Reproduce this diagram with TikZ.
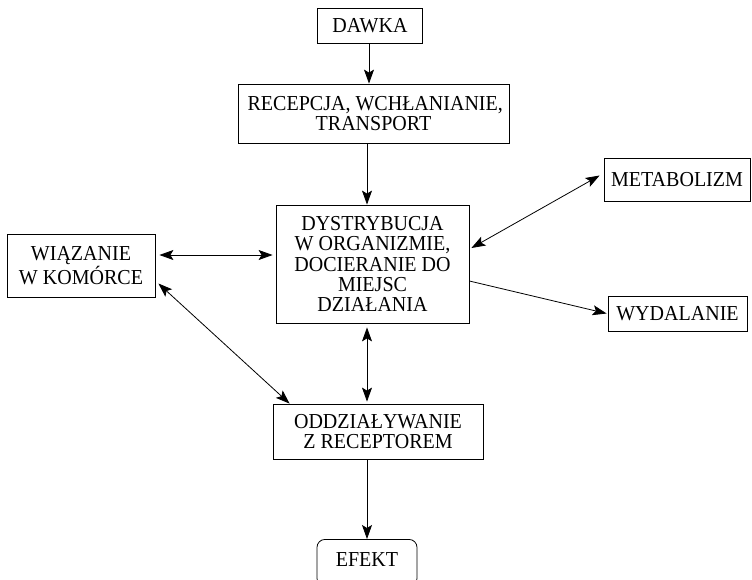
\documentclass[tikz,border=0pt]{standalone}
\usepackage{fontspec}
\setmainfont{Liberation Serif}[FakeStretch=0.94]
\usetikzlibrary{arrows.meta}
\begin{document}
\begin{tikzpicture}[x=1pt,y=-1pt,
  box/.style={draw,line width=0.8pt,rectangle,inner sep=0pt,align=center,
    font=\fontsize{21.3}{20.3}\selectfont},
  arr/.style={line width=0.8pt,-{Stealth[length=14pt,width=10pt,inset=3pt]}},
  darr/.style={line width=0.8pt,{Stealth[length=14pt,width=10pt,inset=3pt]}-{Stealth[length=14pt,width=10pt,inset=3pt]}}]
\useasboundingbox (0,0) rectangle (752,579);
\node[box,minimum width=105pt,minimum height=35pt] (dawka) at (370,25.5) {DAWKA};
\node[box,minimum width=271pt,minimum height=59pt] (rec) at (373.5,113.5) {\,RECEPCJA, WCHŁANIANIE,\\TRANSPORT};
\node[box,minimum width=193pt,minimum height=118pt] (dys) at (372.5,264) {DYSTRYBUCJA\\W ORGANIZMIE,\\DOCIERANIE DO\\MIEJSC\\DZIAŁANIA};
\node[box,minimum width=148pt,minimum height=63pt] (wiaz) at (81,265.5) {WIĄZANIE\\W KOMÓRCE};
\node[box,minimum width=146pt,minimum height=43pt] (metab) at (677,179.5) {METABOLIZM};
\node[box,minimum width=139pt,minimum height=35pt] (wyd) at (677.5,313.5) {WYDALANIE};
\node[box,minimum width=210pt,minimum height=55pt] (odd) at (378,431.5) {ODDZIAŁYWANIE\\Z RECEPTOREM};
\node[box,rounded corners=8pt,minimum width=100pt,anchor=north,text depth=20pt,text height=27pt] (efekt) at (367,539) {EFEKT};
\coordinate (a1) at (369,43);
\coordinate (a2) at (369,84);
\draw[arr] (dawka.south -| a1) -- (rec.north -| a2);
\coordinate (b1) at (367,143);
\draw[arr] (rec.south -| b1) -- (dys.north -| b1);
\draw[darr] ([xshift=4pt]wiaz.east |- 0,255) -- ([xshift=-3pt]dys.west |- 0,255);
\draw[darr] ([xshift=2pt,yshift=16pt]dys.east) -- ([xshift=-4pt,yshift=4pt]metab.west);
\draw[arr] ([yshift=-17pt]dys.east) -- ([xshift=-1pt]wyd.west);
\draw[darr] ([xshift=3pt,yshift=-18pt]wiaz.east) -- ([xshift=17pt]odd.north west);
\coordinate (c1) at (367,0);
\draw[darr] ([yshift=-4pt]dys.south -| c1) -- ([yshift=2pt]odd.north -| c1);
\draw[arr] (odd.south -| c1) -- (efekt.north -| c1);
\end{tikzpicture}
\end{document}
